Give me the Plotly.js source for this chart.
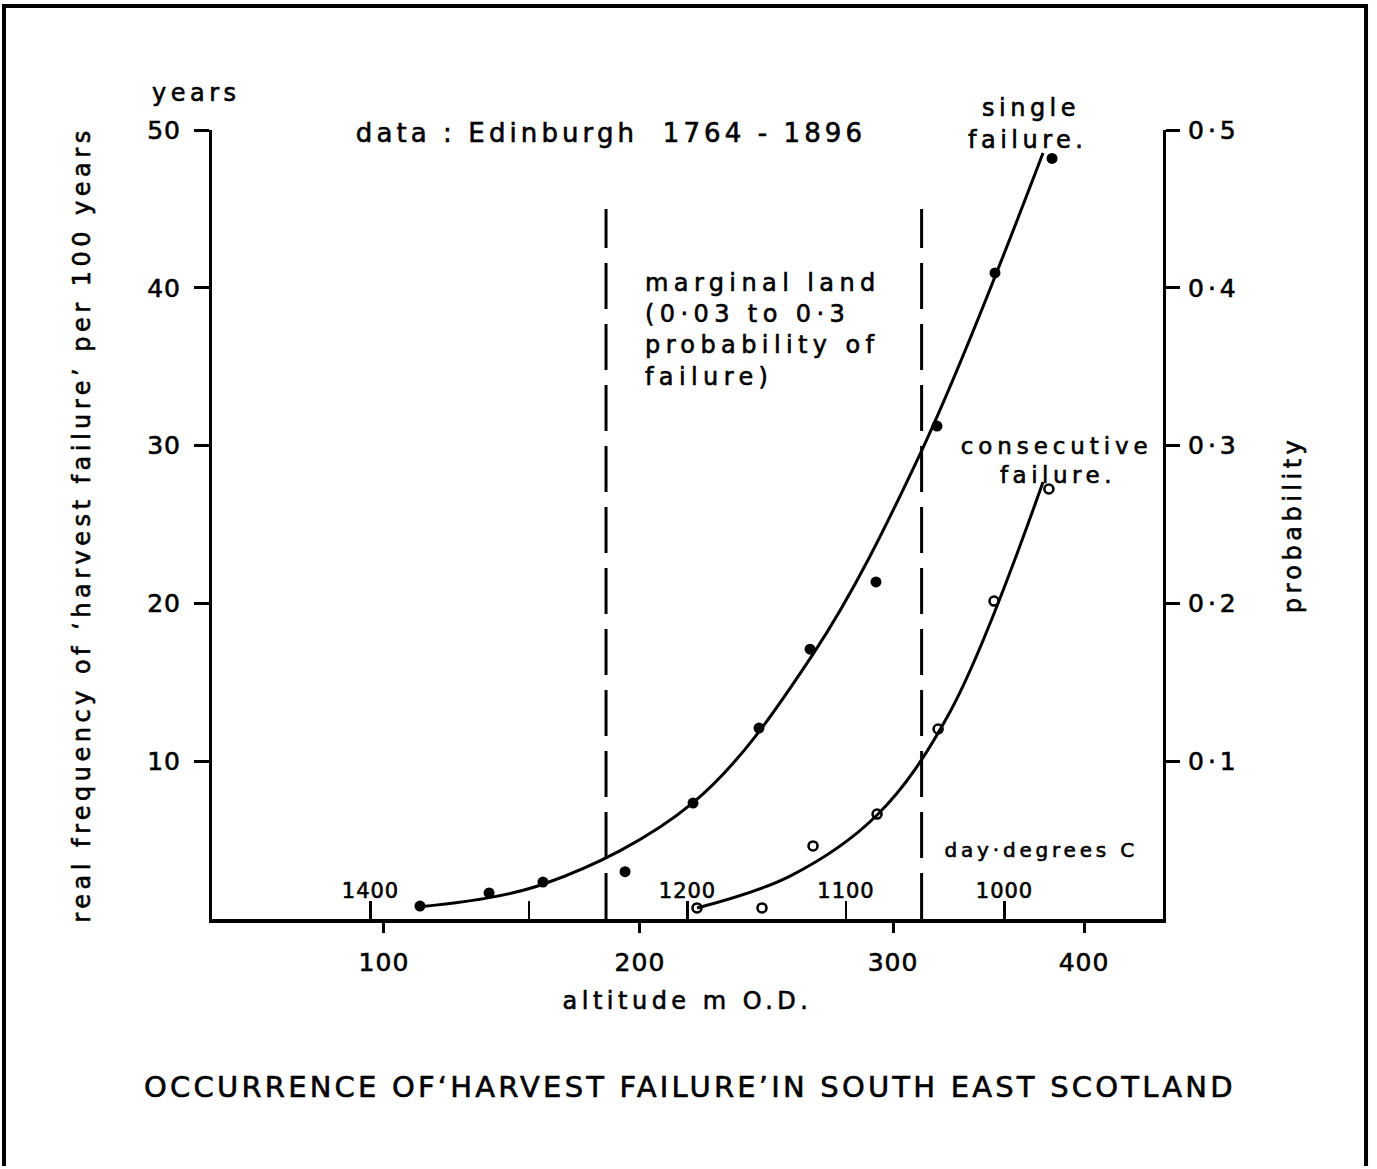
<!DOCTYPE html>
<html>
<head>
<meta charset="utf-8">
<script src="https://cdn.plot.ly/plotly-3.0.1.min.js"></script>
<style>
html, body { margin: 0; padding: 0; background: #fff; }
#chart { width: 1377px; height: 1169px; }
/* wide, heavy stencil-style lettering of the original drawing */
svg text { stroke: #000; stroke-width: 0.6px; }
text.annotation-text { letter-spacing: 4.5px; }
g.annotation[data-index="1"] text { letter-spacing: 4.1px; }
g.annotation[data-index="4"] text { letter-spacing: 4.9px; }
g.annotation[data-index="6"] text { letter-spacing: 5.4px; }
g.annotation[data-index="7"] text { letter-spacing: 3.8px; }
text.gtitle { letter-spacing: 3.2px; }
text.xtitle, text.x2title, text.ytitle, text.y2title { letter-spacing: 4.5px; }
.xtick text, .x2tick text, .ytick text { letter-spacing: 1px; }
.y2tick text { letter-spacing: 4px; }
</style>
</head>
<body>
<div id="chart"></div>
<script>
// ---- horizontal scale: day-degrees C (linear, decreasing to the right) ----
const dayDegreeTicks = [1400, 1300, 1200, 1100, 1000];
const dayDegreeLabels = ['1400', '', '1200', '1100', '1000'];
// altitude (m O.D.) tick labels and their position on the day-degree scale
const altitudeLabels = ['100', '200', '300', '400'];
const altitudeAtDayDegrees = [1391.5, 1230, 1070.3, 949.8];

// ---- vertical scales ----
const yearTicks = [10, 20, 30, 40, 50];
const probTicks = [0.1, 0.2, 0.3, 0.4, 0.5];
const probLabels = ['0·1', '0·2', '0·3', '0·4', '0·5'];

// ---- single failure: observed points (x in day-degrees, y in years per 100 years) ----
const singleX = [1368.8, 1325.2, 1291.2, 1239.4, 1196.5, 1154.9, 1122.7, 1081.1, 1042.6, 1006.0, 970.0];
const singleY = [0.82, 1.65, 2.34, 3.0, 7.35, 12.1, 17.1, 21.36, 31.24, 40.94, 48.2];
// single failure: fitted curve as drawn (read at a few points along it)
const singleCurveX = [1368.8, 1291.2, 1196.5, 1120.8, 1052.1, 975.7];
const singleCurveY = [0.78, 2.20, 7.37, 16.79, 29.72, 48.54];

// ---- consecutive failure: observed points ----
const consecX = [1194.0, 1153.0, 1120.8, 1080.4, 1041.9, 1006.6, 972.0];
const consecY = [0.70, 0.70, 4.63, 6.65, 12.04, 20.15, 27.25];
// consecutive failure: fitted curve as drawn
const consecCurveX = [1194.0, 1135.3, 1080.4, 1034.4, 975.7];
const consecCurveY = [0.70, 2.72, 6.59, 13.12, 27.69];

// ---- marginal land limits (0·03 and 0·3 probability of failure), drawn on the probability scale ----
const marginalBounds = [1251.4, 1052.3];
const marginalTopProb = 0.45;

const FONT = 'DejaVu Sans, Verdana, sans-serif';
const INK = '#000';

const dashX = [], dashY = [];
marginalBounds.forEach(function (b, i) {
  if (i > 0) { dashX.push(null); dashY.push(null); }
  dashX.push(b, b); dashY.push(0, marginalTopProb);
});

const traces = [
  { type: 'scatter', mode: 'lines', name: 'marginal land', x: dashX, y: dashY, xaxis: 'x', yaxis: 'y2',
    line: { color: INK, width: 3, dash: '46px,15px' }, hoverinfo: 'skip' },
  { type: 'scatter', mode: 'lines', name: 'single failure curve', x: singleCurveX, y: singleCurveY,
    xaxis: 'x', yaxis: 'y', line: { color: INK, width: 3, shape: 'spline', smoothing: 1 } },
  { type: 'scatter', mode: 'lines', name: 'consecutive failure curve', x: consecCurveX, y: consecCurveY,
    xaxis: 'x2', yaxis: 'y', line: { color: INK, width: 3, shape: 'spline', smoothing: 1 } },
  { type: 'scatter', mode: 'markers', name: 'single failure', x: singleX, y: singleY,
    xaxis: 'x', yaxis: 'y', marker: { color: INK, size: 11, symbol: 'circle' } },
  { type: 'scatter', mode: 'markers', name: 'consecutive failure', x: consecX, y: consecY,
    xaxis: 'x2', yaxis: 'y', marker: { color: INK, size: 9, symbol: 'circle-open', line: { width: 2.6, color: INK } } }
];

const layout = {
  width: 1377, height: 1169,
  margin: { l: 212, r: 214, t: 130, b: 250 },
  paper_bgcolor: '#fff', plot_bgcolor: '#fff',
  showlegend: false,
  font: { family: FONT, color: INK, size: 22 },
  title: {
    text: 'OCCURRENCE OF‘HARVEST FAILURE’IN SOUTH EAST SCOTLAND',
    x: 0.501, xanchor: 'center', xref: 'container',
    y: 0.0701, yanchor: 'middle', yref: 'container',
    font: { family: FONT, size: 29, color: INK }
  },
  xaxis: {
    range: [1500, 900], tickvals: dayDegreeTicks, ticktext: dayDegreeLabels,
    ticks: 'inside', ticklen: 18, tickwidth: 2.5, tickcolor: INK,
    ticklabelposition: 'inside', tickfont: { size: 21, color: INK },
    showgrid: false, zeroline: false, showline: true, linewidth: 3.5, linecolor: INK,
    fixedrange: true
  },
  xaxis2: {
    overlaying: 'x', anchor: 'y', side: 'bottom', range: [1500, 900],
    tickvals: altitudeAtDayDegrees, ticktext: altitudeLabels,
    ticks: 'outside', ticklen: 13, tickwidth: 3, tickcolor: INK,
    ticklabelstandoff: 8, tickfont: { size: 25, color: INK },
    showgrid: false, zeroline: false, showline: false,
    title: { text: 'altitude m O.D.', standoff: 16, font: { size: 24, color: INK } },
    fixedrange: true
  },
  yaxis: {
    range: [0, 50], tickvals: yearTicks,
    ticks: 'outside', ticklen: 15, tickwidth: 3, tickcolor: INK,
    ticklabelstandoff: 8, tickfont: { size: 25, color: INK },
    showgrid: false, zeroline: false, showline: true, linewidth: 3, linecolor: INK,
    title: { text: 'real frequency of ‘harvest failure’ per 100 years', standoff: 50, font: { size: 24, color: INK } },
    fixedrange: true
  },
  yaxis2: {
    overlaying: 'y', anchor: 'x', side: 'right', range: [0, 0.5],
    tickvals: probTicks, ticktext: probLabels,
    ticks: 'outside', ticklen: 14, tickwidth: 3, tickcolor: INK,
    ticklabelstandoff: 3, tickfont: { size: 25, color: INK },
    showgrid: false, zeroline: false, showline: true, linewidth: 3, linecolor: INK,
    title: { text: 'probability', standoff: 46, font: { size: 24, color: INK } },
    fixedrange: true
  },
  annotations: [
    { text: 'years', xref: 'paper', yref: 'paper', x: -0.0158, y: 1.0469, xanchor: 'center', yanchor: 'middle', showarrow: false, font: { size: 24 } },
    { text: 'data : Edinburgh  1764 - 1896', xref: 'paper', yref: 'paper', x: 0.4196, y: 0.9962, xanchor: 'center', yanchor: 'middle', showarrow: false, font: { size: 26 } },
    { text: 'single', xref: 'paper', yref: 'paper', x: 0.8612, y: 1.0279, xanchor: 'center', yanchor: 'middle', showarrow: false, font: { size: 24 } },
    { text: 'failure.', xref: 'paper', yref: 'paper', x: 0.8570, y: 0.9873, xanchor: 'center', yanchor: 'middle', showarrow: false, font: { size: 24 } },
    { text: 'consecutive', xref: 'paper', yref: 'paper', x: 0.8875, y: 0.5995, xanchor: 'center', yanchor: 'middle', showarrow: false, font: { size: 23 } },
    { text: 'failure.', xref: 'paper', yref: 'paper', x: 0.8896, y: 0.5627, xanchor: 'center', yanchor: 'middle', showarrow: false, font: { size: 23 } },
    { text: 'marginal land<br>(0·03 to 0·3<br>probability of<br>failure)', xref: 'paper', yref: 'paper', x: 0.4532, y: 0.7465, xanchor: 'left', yanchor: 'middle', align: 'left', showarrow: false, font: { size: 24 } },
    { text: 'day·degrees C', xref: 'paper', yref: 'paper', x: 0.8717, y: 0.0875, xanchor: 'center', yanchor: 'middle', showarrow: false, font: { size: 20 } }
  ],
  shapes: [
    { type: 'path', xref: 'paper', yref: 'paper', layer: 'above',
      path: 'M -0.2187,-0.3131 L -0.2187,1.1572 L 1.2135,1.1572 L 1.2135,-0.3131',
      line: { color: INK, width: 4 } }
  ]
};

Plotly.newPlot('chart', traces, layout, { staticPlot: true, displayModeBar: false });
</script>
</body>
</html>
